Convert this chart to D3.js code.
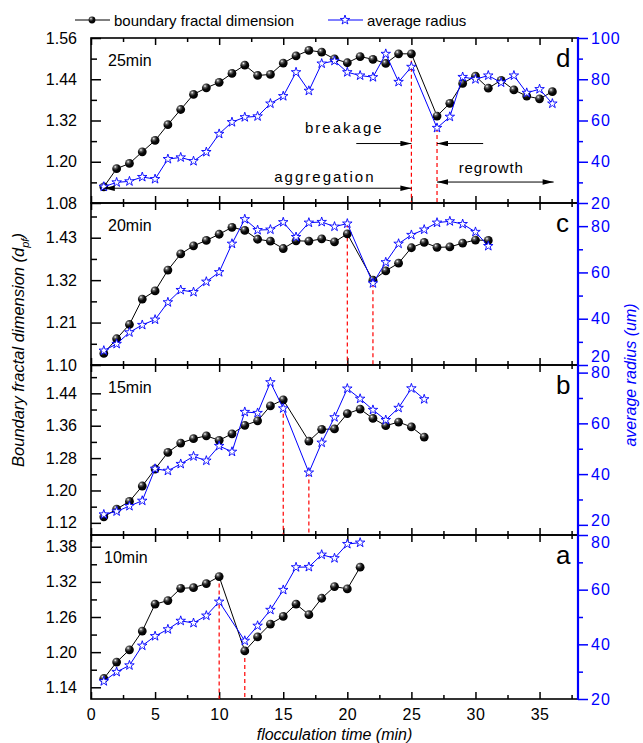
<!DOCTYPE html>
<html>
<head>
<meta charset="utf-8">
<script src="https://cdn.jsdelivr.net/npm/d3@7"></script>
<style>
  body { margin: 0; background: #fff; }
  svg text { font-family: "Liberation Sans", Arial, sans-serif; }
</style>
</head>
<body>
<svg id="chart" width="643" height="743"></svg>
<script>
// flocculation time (min) on the shared x axis
const xTicks = [0, 5, 10, 15, 20, 25, 30, 35];
const xMinorTicks = [2.5, 7.5, 12.5, 17.5, 22.5, 27.5, 32.5, 37.5];

// panel a, 10min
const timeA = [1, 2, 3, 4, 5, 6, 7, 8, 9, 10, 12, 13, 14, 15, 16, 17, 18, 19, 20, 21];
const dimA = [1.155, 1.183, 1.204, 1.236, 1.282, 1.288, 1.309, 1.310, 1.317, 1.329,
  1.202, 1.226, 1.248, 1.261, 1.282, 1.264, 1.292, 1.312, 1.308, 1.345];
const radA = [26.5, 29.9, 32.3, 39.5, 43.0, 45.5, 48.6, 47.8, 50.5, 55.6,
  41.3, 46.8, 52.6, 59.9, 68.2, 68.3, 72.8, 71.5, 76.7, 77.2];
const dimTicksA = [1.14, 1.20, 1.26, 1.32, 1.38];
const dimMinorA = [1.17, 1.23, 1.29, 1.35];
const radTicksA = [20, 40, 60, 80];
const breaksA = [10, 12];

// panel b, 15min
const timeB = [1, 2, 3, 4, 5, 6, 7, 8, 9, 10, 11, 12, 13, 14, 15, 17, 18, 19, 20, 21, 22, 23, 24, 25, 26];
const dimB = [1.135, 1.154, 1.173, 1.211, 1.253, 1.294, 1.317, 1.328, 1.335, 1.324,
  1.340, 1.361, 1.372, 1.409, 1.424, 1.322, 1.351, 1.352, 1.390, 1.401,
  1.378, 1.360, 1.369, 1.357, 1.332];
const radB = [24.1, 25.3, 27.4, 29.5, 42.1, 41.3, 44.0, 47.0, 45.3, 51.1,
  48.8, 64.5, 64.1, 76.2, 65.9, 40.6, 52.4, 62.4, 73.7, 69.7,
  65.3, 61.3, 66.1, 73.8, 69.5];
const dimTicksB = [1.12, 1.20, 1.28, 1.36, 1.44];
const dimMinorB = [1.16, 1.24, 1.32, 1.40, 1.48];
const radTicksB = [20, 40, 60, 80];
const breaksB = [15, 17];

// panel c, 20min
const timeC = [1, 2, 3, 4, 5, 6, 7, 8, 9, 10, 11, 12, 13, 14, 15, 16, 17, 18, 19, 20,
  22, 23, 24, 25, 26, 27, 28, 29, 30, 31];
const dimC = [1.130, 1.168, 1.205, 1.271, 1.292, 1.346, 1.388, 1.409, 1.423, 1.439,
  1.457, 1.449, 1.426, 1.421, 1.402, 1.422, 1.421, 1.427, 1.419, 1.440,
  1.320, 1.344, 1.364, 1.404, 1.418, 1.405, 1.406, 1.416, 1.424, 1.423];
const radC = [26.2, 29.1, 34.1, 37.3, 39.6, 47.1, 52.4, 51.5, 56.0, 60.1,
  72.4, 83.0, 78.3, 78.5, 81.7, 75.3, 81.5, 81.8, 79.8, 81.1,
  55.3, 64.4, 72.4, 76.2, 78.5, 81.5, 82.1, 80.9, 77.5, 71.4];
const dimTicksC = [1.10, 1.21, 1.32, 1.43];
const dimMinorC = [1.155, 1.265, 1.375, 1.485];
const radTicksC = [20, 40, 60, 80];
const breaksC = [20, 22];

// panel d, 25min
const timeD = [1, 2, 3, 4, 5, 6, 7, 8, 9, 10, 11, 12, 13, 14, 15, 16, 17, 18, 19, 20,
  21, 22, 23, 24, 25, 27, 28, 29, 30, 31, 32, 33, 34, 35, 36];
const dimD = [1.127, 1.180, 1.195, 1.229, 1.262, 1.308, 1.352, 1.396, 1.415, 1.431,
  1.457, 1.481, 1.451, 1.454, 1.487, 1.508, 1.524, 1.519, 1.499, 1.488,
  1.506, 1.498, 1.486, 1.514, 1.514, 1.333, 1.370, 1.428, 1.449, 1.414,
  1.437, 1.409, 1.391, 1.383, 1.404];
const radD = [27.9, 30.0, 30.5, 32.6, 31.6, 41.3, 42.1, 40.3, 44.7, 53.5,
  59.2, 61.6, 62.0, 68.2, 71.8, 83.4, 74.4, 87.6, 88.9, 83.4,
  81.8, 81.0, 92.3, 78.7, 86.0, 56.4, 61.8, 81.1, 80.0, 81.8,
  78.4, 81.8, 73.4, 75.2, 68.2];
const dimTicksD = [1.08, 1.20, 1.32, 1.44, 1.56];
const dimMinorD = [1.14, 1.26, 1.38, 1.50];
const radTicksD = [20, 40, 60, 80, 100];
const breaksD = [25, 27];

const radMinor = [30, 50, 70, 90];

const LEFT = 91, RIGHT = 578;
const BLUE = '#0000ff';

const panels = [
  {key: 'd', name: '25min', top: 38, bottom: 203, dimDomain: [1.08, 1.56], radDomain: [20, 100],
    time: timeD, dim: dimD, rad: radD, dimTicks: dimTicksD, dimMinor: dimMinorD, radTicks: radTicksD, breaks: breaksD},
  {key: 'c', name: '20min', top: 203, bottom: 365, dimDomain: [1.10, 1.52], radDomain: [20, 90],
    time: timeC, dim: dimC, rad: radC, dimTicks: dimTicksC, dimMinor: dimMinorC, radTicks: radTicksC, breaks: breaksC},
  {key: 'b', name: '15min', top: 365, bottom: 535, dimDomain: [1.09, 1.51], radDomain: [16, 83],
    time: timeB, dim: dimB, rad: radB, dimTicks: dimTicksB, dimMinor: dimMinorB, radTicks: radTicksB, breaks: breaksB},
  {key: 'a', name: '10min', top: 535, bottom: 699, dimDomain: [1.12, 1.40], radDomain: [20, 80],
    time: timeA, dim: dimA, rad: radA, dimTicks: dimTicksA, dimMinor: dimMinorA, radTicks: radTicksA, breaks: breaksA}
];

const svg = d3.select('#chart');
const x = d3.scaleLinear().domain([0, 38]).range([LEFT, RIGHT]);

const defs = svg.append('defs');
const grad = defs.append('radialGradient').attr('id', 'ball')
  .attr('cx', '0.35').attr('cy', '0.3').attr('r', '0.7');
grad.append('stop').attr('offset', '0').attr('stop-color', '#fff');
grad.append('stop').attr('offset', '0.22').attr('stop-color', '#666');
grad.append('stop').attr('offset', '0.55').attr('stop-color', '#0c0c0c');
grad.append('stop').attr('offset', '1').attr('stop-color', '#000');

defs.append('marker').attr('id', 'arrow')
  .attr('viewBox', '0 0 12 6').attr('refX', 12).attr('refY', 3)
  .attr('markerWidth', 13).attr('markerHeight', 5.5)
  .attr('markerUnits', 'userSpaceOnUse')
  .attr('orient', 'auto-start-reverse')
  .append('path').attr('d', 'M0,0L12,3L0,6Z').attr('fill', '#000');

const star = d3.symbol(d3.symbolStar, 28);

function styleAxis(sel, color, size) {
  sel.select('.domain').remove();
  sel.selectAll('.tick line').attr('stroke', color).attr('stroke-width', 1.5);
  sel.selectAll('.tick text').attr('fill', color)
    .style('font-family', '"Liberation Sans", Arial, sans-serif')
    .style('font-size', size + 'px');
}

// nudges so stacked right-axis labels at panel joins don't sit on each other
const rightLabelDy = {c20: '-0.2em', b20: '0.05em', a80: '0.75em'};

panels.forEach((p) => {
  const y = d3.scaleLinear().domain(p.dimDomain).range([p.bottom, p.top]);
  const yr = d3.scaleLinear().domain(p.radDomain).range([p.bottom, p.top]);
  p.y = y;
  const g = svg.append('g').attr('class', 'panel-' + p.key);

  // x ticks, inward on top and bottom
  g.append('g').attr('transform', `translate(0,${p.bottom})`)
    .call(d3.axisBottom(x).tickValues(xMinorTicks).tickSize(-4).tickFormat(''))
    .call(styleAxis, '#000', 16);
  g.append('g').attr('transform', `translate(0,${p.bottom})`)
    .call(d3.axisBottom(x).tickValues(xTicks).tickSize(-7).tickPadding(10)
      .tickFormat(p.key === 'a' ? d3.format('d') : ''))
    .call(styleAxis, '#000', 16)
    .selectAll('.tick text').style('letter-spacing', '0.5px');
  g.append('g').attr('transform', `translate(0,${p.top})`)
    .call(d3.axisTop(x).tickValues(xMinorTicks).tickSize(-4).tickFormat(''))
    .call(styleAxis, '#000', 16);
  g.append('g').attr('transform', `translate(0,${p.top})`)
    .call(d3.axisTop(x).tickValues(xTicks).tickSize(-7).tickFormat(''))
    .call(styleAxis, '#000', 16);

  // left axis
  g.append('g').attr('transform', `translate(${LEFT},0)`)
    .call(d3.axisLeft(y).tickValues(p.dimMinor).tickSize(-6).tickFormat(''))
    .call(styleAxis, '#000', 16);
  g.append('g').attr('transform', `translate(${LEFT},0)`)
    .call(d3.axisLeft(y).tickValues(p.dimTicks).tickSize(-10).tickPadding(14).tickFormat(d3.format('.2f')))
    .call(styleAxis, '#000', 16);

  // right axis
  g.append('g').attr('transform', `translate(${RIGHT},0)`)
    .call(d3.axisRight(yr).tickValues(radMinor.filter((v) => v > p.radDomain[0] && v < p.radDomain[1])).tickSize(5).tickFormat(''))
    .call(styleAxis, BLUE, 16);
  const ra = g.append('g').attr('transform', `translate(${RIGHT},0)`)
    .call(d3.axisRight(yr).tickValues(p.radTicks).tickSize(10).tickPadding(3).tickFormat(d3.format('d')))
    .call(styleAxis, BLUE, 16);
  ra.selectAll('.tick text').style('letter-spacing', '1px')
    .each(function (d) {
      const k = p.key + d;
      if (rightLabelDy[k]) d3.select(this).attr('dy', rightLabelDy[k]);
    });

  // frame
  g.append('rect')
    .attr('x', LEFT).attr('y', p.top)
    .attr('width', RIGHT - LEFT).attr('height', p.bottom - p.top)
    .attr('fill', 'none').attr('stroke', '#000').attr('stroke-width', 1.6);

  const pts = p.time.map((t, i) => ({t: t, dim: p.dim[i], rad: p.rad[i]}));

  // red dashed markers at breakage start and end
  p.breaks.forEach((b, k) => {
    const d = pts.find((q) => q.t === b);
    const ys = [y(d.dim), yr(d.rad)];
    const y0 = k === 0 ? d3.min(ys) : d3.max(ys);
    g.append('line')
      .attr('x1', x(b)).attr('x2', x(b))
      .attr('y1', y0).attr('y2', p.bottom)
      .attr('stroke', '#ff0000').attr('stroke-width', 1.2)
      .attr('stroke-dasharray', '4,3');
  });

  // boundary fractal dimension
  g.append('path').datum(pts)
    .attr('fill', 'none').attr('stroke', '#000').attr('stroke-width', 1)
    .attr('d', d3.line().x((d) => x(d.t)).y((d) => y(d.dim)));
  g.selectAll('.dot').data(pts).enter().append('circle')
    .attr('class', 'dot')
    .attr('cx', (d) => x(d.t)).attr('cy', (d) => y(d.dim))
    .attr('r', 4.4).attr('fill', 'url(#ball)');

  // average radius
  g.append('path').datum(pts)
    .attr('fill', 'none').attr('stroke', BLUE).attr('stroke-width', 1)
    .attr('d', d3.line().x((d) => x(d.t)).y((d) => yr(d.rad)));
  g.selectAll('.star').data(pts).enter().append('path')
    .attr('class', 'star')
    .attr('transform', (d) => `translate(${x(d.t)},${yr(d.rad)})`)
    .attr('d', star).attr('fill', '#fff').attr('stroke', BLUE).attr('stroke-width', 0.9);

  // panel labels
  g.append('text').attr('x', p.key === 'a' ? 104 : 108).attr('y', p.top + 28)
    .style('font-size', '16px').text(p.name);
  g.append('text').attr('x', 556).attr('y', p.top + 29)
    .style('font-size', '26px').text(p.key);
});

// blue right spine over everything
svg.append('line')
  .attr('x1', RIGHT).attr('x2', RIGHT).attr('y1', 37).attr('y2', 700)
  .attr('stroke', BLUE).attr('stroke-width', 2.2);

// annotations in panel d
const yD = panels[0].y;
const annLines = [
  {from: [1, 1.123], to: [25, 1.123], both: true},
  {from: [20.7, 1.253], to: [25, 1.253], both: false},
  {from: [30.6, 1.253], to: [27, 1.253], both: false},
  {from: [27, 1.141], to: [36.1, 1.141], both: true}
];
annLines.forEach((a) => {
  svg.append('line')
    .attr('x1', x(a.from[0])).attr('y1', yD(a.from[1]))
    .attr('x2', x(a.to[0])).attr('y2', yD(a.to[1]))
    .attr('stroke', '#000').attr('stroke-width', 1)
    .attr('marker-end', 'url(#arrow)')
    .attr('marker-start', a.both ? 'url(#arrow)' : null);
});
const annTexts = [
  {text: 'breakage', t: 16.7, v: 1.284, spacing: 2},
  {text: 'aggregation', t: 14.3, v: 1.142, spacing: 2},
  {text: 'regrowth', t: 28.7, v: 1.166, spacing: 0.8}
];
annTexts.forEach((a) => {
  svg.append('text').attr('x', x(a.t)).attr('y', yD(a.v))
    .style('font-size', '15px').style('letter-spacing', a.spacing + 'px')
    .text(a.text);
});

// legend
const lg = svg.append('g');
lg.append('line').attr('x1', 75).attr('x2', 110).attr('y1', 20).attr('y2', 20)
  .attr('stroke', '#000').attr('stroke-width', 1);
lg.append('circle').attr('cx', 92).attr('cy', 20).attr('r', 3.4).attr('fill', 'url(#ball)');
lg.append('text').attr('x', 114).attr('y', 26).style('font-size', '15px')
  .text('boundary fractal dimension');
lg.append('line').attr('x1', 328).attr('x2', 363).attr('y1', 20).attr('y2', 20)
  .attr('stroke', BLUE).attr('stroke-width', 1);
lg.append('path').attr('transform', 'translate(345,20)').attr('d', star)
  .attr('fill', '#fff').attr('stroke', BLUE).attr('stroke-width', 0.9);
lg.append('text').attr('x', 367).attr('y', 26).style('font-size', '15px')
  .text('average radius');

// axis titles
const lt = svg.append('text')
  .attr('transform', 'translate(24,350) rotate(-90)')
  .attr('text-anchor', 'middle')
  .style('font-size', '16.5px').style('font-style', 'italic');
lt.append('tspan').text('Boundary fractal dimension (d');
lt.append('tspan').attr('dy', 5).style('font-size', '11px').text('pf');
lt.append('tspan').attr('dy', -5).text(')');

svg.append('text')
  .attr('transform', 'translate(636,375) rotate(-90)')
  .attr('text-anchor', 'middle').attr('fill', BLUE)
  .style('font-size', '16px').style('font-style', 'italic')
  .text('average radius (um)');

svg.append('text')
  .attr('x', (LEFT + RIGHT) / 2).attr('y', 740)
  .attr('text-anchor', 'middle')
  .style('font-size', '16px').style('font-style', 'italic')
  .text('flocculation time (min)');
</script>
</body>
</html>
